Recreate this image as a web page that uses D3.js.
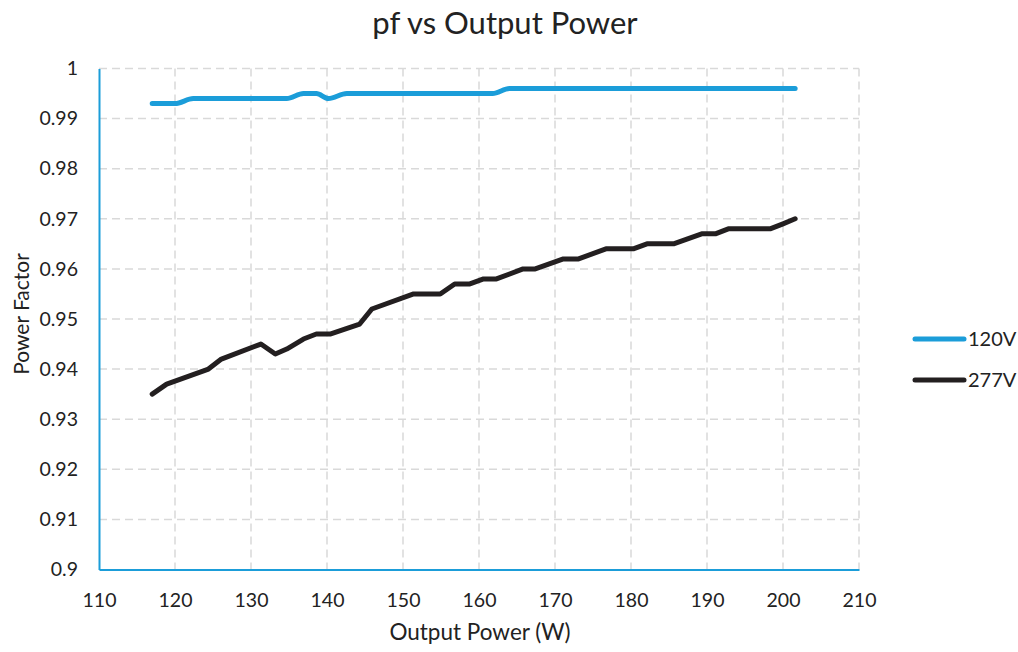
<!DOCTYPE html>
<html>
  <head>
    <meta charset="utf-8">
    <title>pf vs Output Power</title>
    <script src="https://d3js.org/d3.v7.min.js"></script>
    <style>
    html, body {margin: 0; padding: 0; background: #fff;}
    svg text {font-family: Lato, "Open Sans", sans-serif; fill: #222;}
    .grid line {stroke: #d9d9d9; stroke-width: 1.5px; stroke-dasharray: 8 5;}
    .axis path, .axis line {stroke: #1b9dd9;}
    </style>
  </head>
  <body>
    <script>

    // data
    var xTicks = [110, 120, 130, 140, 150, 160, 170, 180, 190, 200, 210];
    var yTicks = [0.9, 0.91, 0.92, 0.93, 0.94, 0.95, 0.96, 0.97, 0.98, 0.99, 1];

    var power120 = [117.0, 120.0, 122.4, 134.7, 136.9, 138.6, 140.2, 142.6, 161.8, 164.0, 201.6];
    var pf120    = [0.993, 0.993, 0.994, 0.994, 0.995, 0.995, 0.994, 0.995, 0.995, 0.996, 0.996];

    var power277 = [117.0, 118.9, 124.4, 126.1, 131.3, 133.2, 134.7, 136.9, 138.6, 140.4, 144.3, 145.9,
                    151.4, 154.9, 156.8, 158.8, 160.6, 162.3, 165.8, 167.4, 171.1, 173.1, 176.7, 180.3,
                    182.1, 185.6, 189.3, 191.1, 192.8, 198.3, 200.0, 201.6];
    var pf277    = [0.935, 0.937, 0.940, 0.942, 0.945, 0.943, 0.944, 0.946, 0.947, 0.947, 0.949, 0.952,
                    0.955, 0.955, 0.957, 0.957, 0.958, 0.958, 0.960, 0.960, 0.962, 0.962, 0.964, 0.964,
                    0.965, 0.965, 0.967, 0.967, 0.968, 0.968, 0.969, 0.970];

    var seriesNames = ["120V", "277V"];
    var seriesColors = ["#1b9dd9", "#231f20"];

    var width = 1018, height = 652;
    var plotLeft = 99, plotRight = 859, plotTop = 68.5, plotBottom = 569.5;

    var svg = d3.select("body").append("svg")
        .attr("width", width)
        .attr("height", height);

    var x = d3.scaleLinear().domain([110, 210]).range([plotLeft, plotRight]);
    var y = d3.scaleLinear().domain([0.9, 1]).range([plotBottom, plotTop]);

    // grid
    var grid = svg.append("g").attr("class", "grid");
    grid.selectAll(".gy")
        .data(yTicks.slice(1))
        .enter().append("line")
        .attr("x1", plotLeft).attr("x2", plotRight)
        .attr("y1", function(d) { return y(d); })
        .attr("y2", function(d) { return y(d); });
    grid.selectAll(".gx")
        .data(xTicks.slice(1))
        .enter().append("line")
        .attr("y1", plotTop).attr("y2", plotBottom)
        .attr("x1", function(d) { return x(d); })
        .attr("x2", function(d) { return x(d); });

    // axes
    var xAxis = svg.append("g")
        .attr("class", "axis")
        .attr("transform", "translate(0," + plotBottom + ")")
        .call(d3.axisBottom(x).tickValues(xTicks).tickSize(0).tickPadding(23.5));
    xAxis.select(".domain").attr("stroke-width", 2);
    xAxis.selectAll("text").style("font-size", "19.5px").style("font-family", "Lato, sans-serif").attr("fill", "#222");

    var yAxis = svg.append("g")
        .attr("class", "axis")
        .attr("transform", "translate(" + plotLeft + ",0)")
        .call(d3.axisLeft(y).tickValues(yTicks).tickSize(0).tickPadding(21)
            .tickFormat(function(d) { return String(+d.toFixed(2)); }));
    yAxis.select(".domain").attr("stroke-width", 2);
    yAxis.selectAll("text").style("font-size", "19.5px").style("font-family", "Lato, sans-serif").attr("fill", "#222");

    // lines
    var series = [
        {x: power120, y: pf120, curve: d3.curveMonotoneX},
        {x: power277, y: pf277, curve: d3.curveLinear}
    ];

    series.forEach(function(s, i) {
        var line = d3.line()
            .x(function(d) { return x(d); })
            .y(function(d, j) { return y(s.y[j]); })
            .curve(s.curve);
        svg.append("path")
            .datum(s.x)
            .attr("d", line)
            .attr("fill", "none")
            .attr("stroke", seriesColors[i])
            .attr("stroke-width", 5)
            .attr("stroke-linecap", "round")
            .attr("stroke-linejoin", "round");
    });

    // titles
    svg.append("text")
        .attr("x", 505).attr("y", 34)
        .attr("text-anchor", "middle")
        .style("font-size", "31px")
        .text("pf vs Output Power");

    svg.append("text")
        .attr("x", 480).attr("y", 640)
        .attr("text-anchor", "middle")
        .style("font-size", "22.5px")
        .text("Output Power (W)");

    svg.append("text")
        .attr("transform", "translate(29,314) rotate(-90)")
        .attr("text-anchor", "middle")
        .style("font-size", "21px")
        .text("Power Factor");

    // legend
    var legend = svg.append("g")
        .selectAll("g")
        .data(seriesNames)
        .enter().append("g")
        .attr("transform", function(d, i) { return "translate(915," + (339 + i * 41) + ")"; });
    legend.append("line")
        .attr("x1", 0).attr("x2", 49)
        .attr("stroke", function(d, i) { return seriesColors[i]; })
        .attr("stroke-width", 5)
        .attr("stroke-linecap", "round");
    legend.append("text")
        .attr("x", 53).attr("y", 7)
        .style("font-size", "20px")
        .text(function(d) { return d; });

    </script>
  </body>
</html>
